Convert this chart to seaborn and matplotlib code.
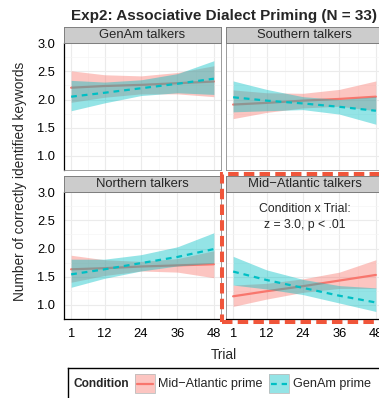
import numpy as np
import pandas as pd
import matplotlib
matplotlib.use("Agg")
import matplotlib.pyplot as plt
import seaborn as sns
from matplotlib.patches import Rectangle

# values at trials 1, 12, 24, 36, 48
trials = [1, 12, 24, 36, 48]
talkers = ["GenAm talkers", "Southern talkers", "Northern talkers", "Mid\u2212Atlantic talkers"]
conditions = ["Mid\u2212Atlantic prime", "GenAm prime"]

genam_mid_fit = [2.21, 2.24, 2.26, 2.29, 2.32]
genam_mid_lo = [1.95, 2.04, 2.10, 2.10, 2.05]
genam_mid_hi = [2.51, 2.44, 2.42, 2.48, 2.60]
genam_gen_fit = [2.05, 2.12, 2.20, 2.28, 2.37]
genam_gen_lo = [1.80, 1.94, 2.07, 2.12, 2.09]
genam_gen_hi = [2.34, 2.31, 2.35, 2.46, 2.69]

south_mid_fit = [1.91, 1.94, 1.98, 2.01, 2.05]
south_mid_lo = [1.66, 1.77, 1.85, 1.88, 1.80]
south_mid_hi = [2.17, 2.12, 2.11, 2.18, 2.33]
south_gen_fit = [2.04, 1.98, 1.93, 1.87, 1.80]
south_gen_lo = [1.78, 1.80, 1.82, 1.74, 1.56]
south_gen_hi = [2.33, 2.18, 2.05, 2.00, 2.05]

north_mid_fit = [1.63, 1.65, 1.68, 1.70, 1.72]
north_mid_lo = [1.40, 1.52, 1.60, 1.58, 1.48]
north_mid_hi = [1.88, 1.80, 1.77, 1.82, 1.96]
north_gen_fit = [1.54, 1.63, 1.74, 1.85, 1.99]
north_gen_lo = [1.31, 1.47, 1.60, 1.69, 1.74]
north_gen_hi = [1.81, 1.81, 1.89, 2.03, 2.28]

midat_mid_fit = [1.15, 1.24, 1.33, 1.43, 1.53]
midat_mid_lo = [0.97, 1.10, 1.22, 1.29, 1.29]
midat_mid_hi = [1.35, 1.38, 1.46, 1.58, 1.80]
midat_gen_fit = [1.59, 1.44, 1.30, 1.16, 1.04]
midat_gen_lo = [1.35, 1.28, 1.18, 1.03, 0.88]
midat_gen_hi = [1.86, 1.62, 1.45, 1.34, 1.30]

series = {
    talkers[0]: [(genam_mid_fit, genam_mid_lo, genam_mid_hi), (genam_gen_fit, genam_gen_lo, genam_gen_hi)],
    talkers[1]: [(south_mid_fit, south_mid_lo, south_mid_hi), (south_gen_fit, south_gen_lo, south_gen_hi)],
    talkers[2]: [(north_mid_fit, north_mid_lo, north_mid_hi), (north_gen_fit, north_gen_lo, north_gen_hi)],
    talkers[3]: [(midat_mid_fit, midat_mid_lo, midat_mid_hi), (midat_gen_fit, midat_gen_lo, midat_gen_hi)],
}

rows = []
for t in talkers:
    for cond, (fit, lo, hi) in zip(conditions, series[t]):
        for i, tr in enumerate(trials):
            rows.append({"talker": t, "condition": cond, "trial": tr,
                         "fit": fit[i], "lo": lo[i], "hi": hi[i]})
df = pd.DataFrame(rows)

sns.set_style("white")
plt.rcParams["font.family"] = ["Liberation Sans", "DejaVu Sans"]

colors = {conditions[0]: "#F8766D", conditions[1]: "#00BFC4"}
styles = {conditions[0]: "-", conditions[1]: (0, (2.6, 2.2))}

W, H = 379, 398
fig = plt.figure(figsize=(W / 100, H / 100), dpi=100)
fig.patch.set_facecolor("white")


def box(x0, y0, x1, y1):
    return [x0 / W, 1 - y1 / H, (x1 - x0) / W, (y1 - y0) / H]


col_x = [64, 226]
row_y = [43, 192]
pw, ph = 157, 126.5

for k, t in enumerate(talkers):
    r, c = divmod(k, 2)
    x0, y0 = col_x[c], row_y[r]
    ax = fig.add_axes(box(x0, y0, x0 + pw, y0 + ph))
    sub = df[df.talker == t]
    z = 2
    for cond in conditions:
        s = sub[sub.condition == cond]
        ax.fill_between(s.trial, s.lo, s.hi, color=colors[cond], alpha=0.42, lw=0, zorder=z)
        sns.lineplot(data=s, x="trial", y="fit", color=colors[cond], linestyle=styles[cond],
                     lw=1.6, errorbar=None, legend=False, ax=ax, zorder=z + 1)
        z += 2
    ax.set_xlim(-1.35, 50.35)
    ax.set_ylim(0.755, 3.005)
    ax.set_xticks(trials)
    ax.set_xticks([6.5, 18, 30, 42], minor=True)
    ax.set_yticks([1.0, 1.5, 2.0, 2.5, 3.0])
    ax.set_yticks([1.25, 1.75, 2.25, 2.75], minor=True)
    ax.grid(which="major", color="#EBEBEB", lw=0.8, zorder=0)
    ax.grid(which="minor", color="#F5F5F5", lw=0.5, zorder=0)
    ax.set_axisbelow(True)
    ax.set_xlabel("")
    ax.set_ylabel("")
    for sp in ax.spines.values():
        sp.set_color("#8C8C8C")
        sp.set_linewidth(0.6)
    ax.tick_params(which="minor", length=0)
    ax.tick_params(which="major", length=4, width=0.7, color="black", pad=2.5,
                   labelsize=9.3, labelcolor="black", direction="out")
    if c == 0:
        ax.spines["left"].set_color("black")
        ax.spines["left"].set_linewidth(0.9)
        ax.set_yticklabels(["1.0", "1.5", "2.0", "2.5", "3.0"])
    else:
        ax.tick_params(axis="y", left=False, labelleft=False)
    if r == 1:
        ax.spines["bottom"].set_color("black")
        ax.spines["bottom"].set_linewidth(0.9)
        ax.set_xticklabels([str(v) for v in trials])
    else:
        ax.tick_params(axis="x", bottom=False, labelbottom=False)
    if k == 3:
        ax.text(24.5, 2.56, "Condition x Trial:\nz = 3.0, p < .01", ha="center", va="center",
                fontsize=8.8, linespacing=1.45)

    # facet strip
    st = fig.add_axes(box(x0, y0 - 16, x0 + pw, y0))
    st.set_facecolor("#CCCCCC")
    st.set_xticks([])
    st.set_yticks([])
    for sp in st.spines.values():
        sp.set_color("#7F7F7F")
        sp.set_linewidth(0.7)
    st.text(0.5, 0.47, t, ha="center", va="center", fontsize=9.4, transform=st.transAxes)

fig.text(223.5 / W, 1 - 16 / H, "Exp2: Associative Dialect Priming (N = 33)",
         ha="center", va="center", fontsize=11, fontweight="bold")
fig.text(20 / W, 1 - 181 / H, "Number of correctly identified keywords", rotation=90,
         ha="center", va="center", fontsize=9.8)
fig.text(223.5 / W, 1 - 355 / H, "Trial", ha="center", va="center", fontsize=9.8)

# highlight around the Mid-Atlantic panel
fig.patches.append(Rectangle((221.5 / W, 1 - 322 / H), 200 / W, 148 / H, fill=False,
                             edgecolor="#F0553A", lw=2.9, linestyle=(0, (2.6, 1.3)),
                             transform=fig.transFigure, zorder=10))

# legend
lax = fig.add_axes(box(68, 368, 420, 412))
lax.set_xlim(68, 420)
lax.set_ylim(412, 368)
lax.set_xticks([])
lax.set_yticks([])
for sp in lax.spines.values():
    sp.set_color("black")
    sp.set_linewidth(1.0)
lax.text(74, 384, "Condition", fontsize=8.6, fontweight="bold", va="center")
for cond, kx, tx in zip(conditions, [135, 269], [158, 293]):
    lax.add_patch(Rectangle((kx, 374), 20, 19, facecolor=colors[cond], alpha=0.42,
                            edgecolor="none"))
    lax.add_patch(Rectangle((kx, 374), 20, 19, fill=False, edgecolor="#BDBDBD", lw=0.6))
    lax.plot([kx + 2, kx + 18], [383.5, 383.5], color=colors[cond], lw=1.6,
             linestyle=styles[cond])
    lax.text(tx, 384, cond, fontsize=9.1, va="center")

fig.savefig("out.png", dpi=100)
